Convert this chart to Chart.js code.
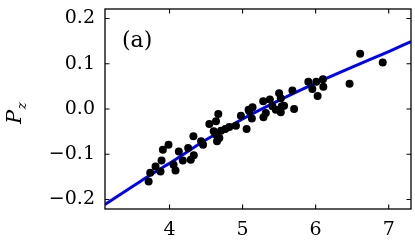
<!DOCTYPE html>
<html>
<head>
<meta charset="utf-8">
<script src="https://cdn.jsdelivr.net/npm/chart.js@4.4.1/dist/chart.umd.min.js"></script>
<style>
  html, body { margin: 0; padding: 0; background: #fff; }
  #wrap { width: 415px; height: 242px; }
</style>
</head>
<body>
<div id="wrap"><canvas id="c" width="415" height="242"></canvas></div>
<script>
// Fit curve
const fitX = [3.117, 3.6, 4.0, 4.5, 5.0, 5.5, 6.0, 6.5, 7.0, 7.305];
const fitY = [-0.211, -0.160, -0.120, -0.068, -0.022, 0.019, 0.057, 0.0925, 0.127, 0.149];

// Scattered data points
const dotX = [3.714, 3.736, 3.809, 3.877, 3.891, 3.909, 3.986, 4.055, 4.082, 4.127,
              4.182, 4.255, 4.291, 4.332, 4.327, 4.432, 4.459, 4.545, 4.636, 4.668,
              4.605, 4.636, 4.650, 4.682, 4.705, 4.764, 4.818, 4.909, 4.977, 5.055,
              5.082, 5.136, 5.127, 5.091, 5.282, 5.286, 5.318, 5.373, 5.409, 5.455,
              5.500, 5.523, 5.536, 5.523, 5.568, 5.682, 5.705, 5.900, 5.955, 6.009,
              6.027, 6.100, 6.105, 6.464, 6.609, 6.918];
const dotY = [-0.160, -0.141, -0.127, -0.138, -0.114, -0.090, -0.079, -0.123, -0.136, -0.094,
              -0.114, -0.086, -0.112, -0.102, -0.060, -0.071, -0.079, -0.033, -0.027, -0.011,
              -0.049, -0.057, -0.071, -0.064, -0.048, -0.044, -0.040, -0.037, -0.015, -0.044,
              -0.0015, 0.004, -0.021, -0.005, 0.017, -0.018, -0.009, 0.021, 0.006, -0.0015,
              0.035, 0.024, 0.006, -0.007, 0.007, 0.041, 0.000, 0.060, 0.044, 0.060,
              0.029, 0.066, 0.049, 0.056, 0.122, 0.103];

const xTicks = [4, 5, 6, 7];
const yTicks = [-0.2, -0.1, 0.0, 0.1, 0.2];
const panelLabel = '(a)';
const yLabelMain = 'P';
const yLabelSub = 'z';

const FONT = "'DejaVu Serif', serif";

const framePlugin = {
  id: 'frame',
  afterDatasetsDraw(chart) {
    const { ctx, chartArea: a, scales } = chart;
    ctx.save();
    ctx.strokeStyle = '#000';
    ctx.lineWidth = 1.3;
    ctx.strokeRect(a.left, a.top, a.right - a.left, a.bottom - a.top);
    const tl = 4.5;
    ctx.lineWidth = 1.1;
    ctx.beginPath();
    xTicks.forEach(v => {
      const x = scales.x.getPixelForValue(v);
      ctx.moveTo(x, a.bottom); ctx.lineTo(x, a.bottom - tl);
      ctx.moveTo(x, a.top); ctx.lineTo(x, a.top + tl);
    });
    yTicks.forEach(v => {
      const y = scales.y.getPixelForValue(v);
      ctx.moveTo(a.left, y); ctx.lineTo(a.left + tl, y);
      ctx.moveTo(a.right, y); ctx.lineTo(a.right - tl, y);
    });
    ctx.stroke();
    // panel label
    ctx.fillStyle = '#000';
    ctx.font = "22px " + FONT;
    ctx.textBaseline = 'alphabetic';
    ctx.textAlign = 'left';
    ctx.fillText(panelLabel, a.left + 17, a.top + 38);
    // y axis title P_z
    ctx.translate(21, 124);
    ctx.rotate(-Math.PI / 2);
    ctx.font = "italic 21px " + FONT;
    ctx.fillText(yLabelMain, 0, 0);
    const w = ctx.measureText(yLabelMain).width;
    ctx.font = "italic 13px " + FONT;
    ctx.fillText(yLabelSub, w + 0.5, 5);
    ctx.restore();
  }
};

function fmtY(v) {
  const s = Number(v).toFixed(1);
  return s.replace('-', '\u2212');
}

new Chart(document.getElementById('c'), {
  type: 'scatter',
  data: {
    datasets: [
      {
        type: 'scatter',
        data: dotX.map((x, i) => ({ x, y: dotY[i] })),
        backgroundColor: '#000',
        borderColor: '#000',
        pointRadius: 4,
        pointBorderWidth: 0,
        order: 1
      },
      {
        type: 'line',
        data: fitX.map((x, i) => ({ x, y: fitY[i] })),
        borderColor: '#0000ff',
        borderWidth: 3,
        pointRadius: 0,
        fill: false,
        tension: 0.4,
        cubicInterpolationMode: 'monotone',
        order: 2
      }
    ]
  },
  options: {
    responsive: false,
    animation: false,
    devicePixelRatio: 1,
    layout: { padding: { top: 9, right: 3, left: 0, bottom: 0 } },
    plugins: { legend: { display: false }, tooltip: { enabled: false } },
    scales: {
      x: {
        type: 'linear',
        min: 3.117, max: 7.305,
        afterBuildTicks: s => { s.ticks = xTicks.map(v => ({ value: v })); },
        afterFit: s => { s.height = 33; s.paddingLeft = 0; s.paddingRight = 0; },
        grid: { display: false, drawTicks: false },
        border: { display: false },
        ticks: { color: '#000', font: { family: FONT, size: 19 }, padding: 10, maxRotation: 0,
                 callback: v => String(v) }
      },
      y: {
        type: 'linear',
        min: -0.221, max: 0.221,
        afterBuildTicks: s => { s.ticks = yTicks.map(v => ({ value: v })); },
        afterFit: s => { s.width = 105; s.paddingTop = 0; s.paddingBottom = 0; },
        grid: { display: false, drawTicks: false },
        border: { display: false },
        ticks: { color: '#000', font: { family: FONT, size: 19 }, padding: 10,
                 callback: v => fmtY(v) }
      }
    }
  },
  plugins: [framePlugin]
});
</script>
</body>
</html>
